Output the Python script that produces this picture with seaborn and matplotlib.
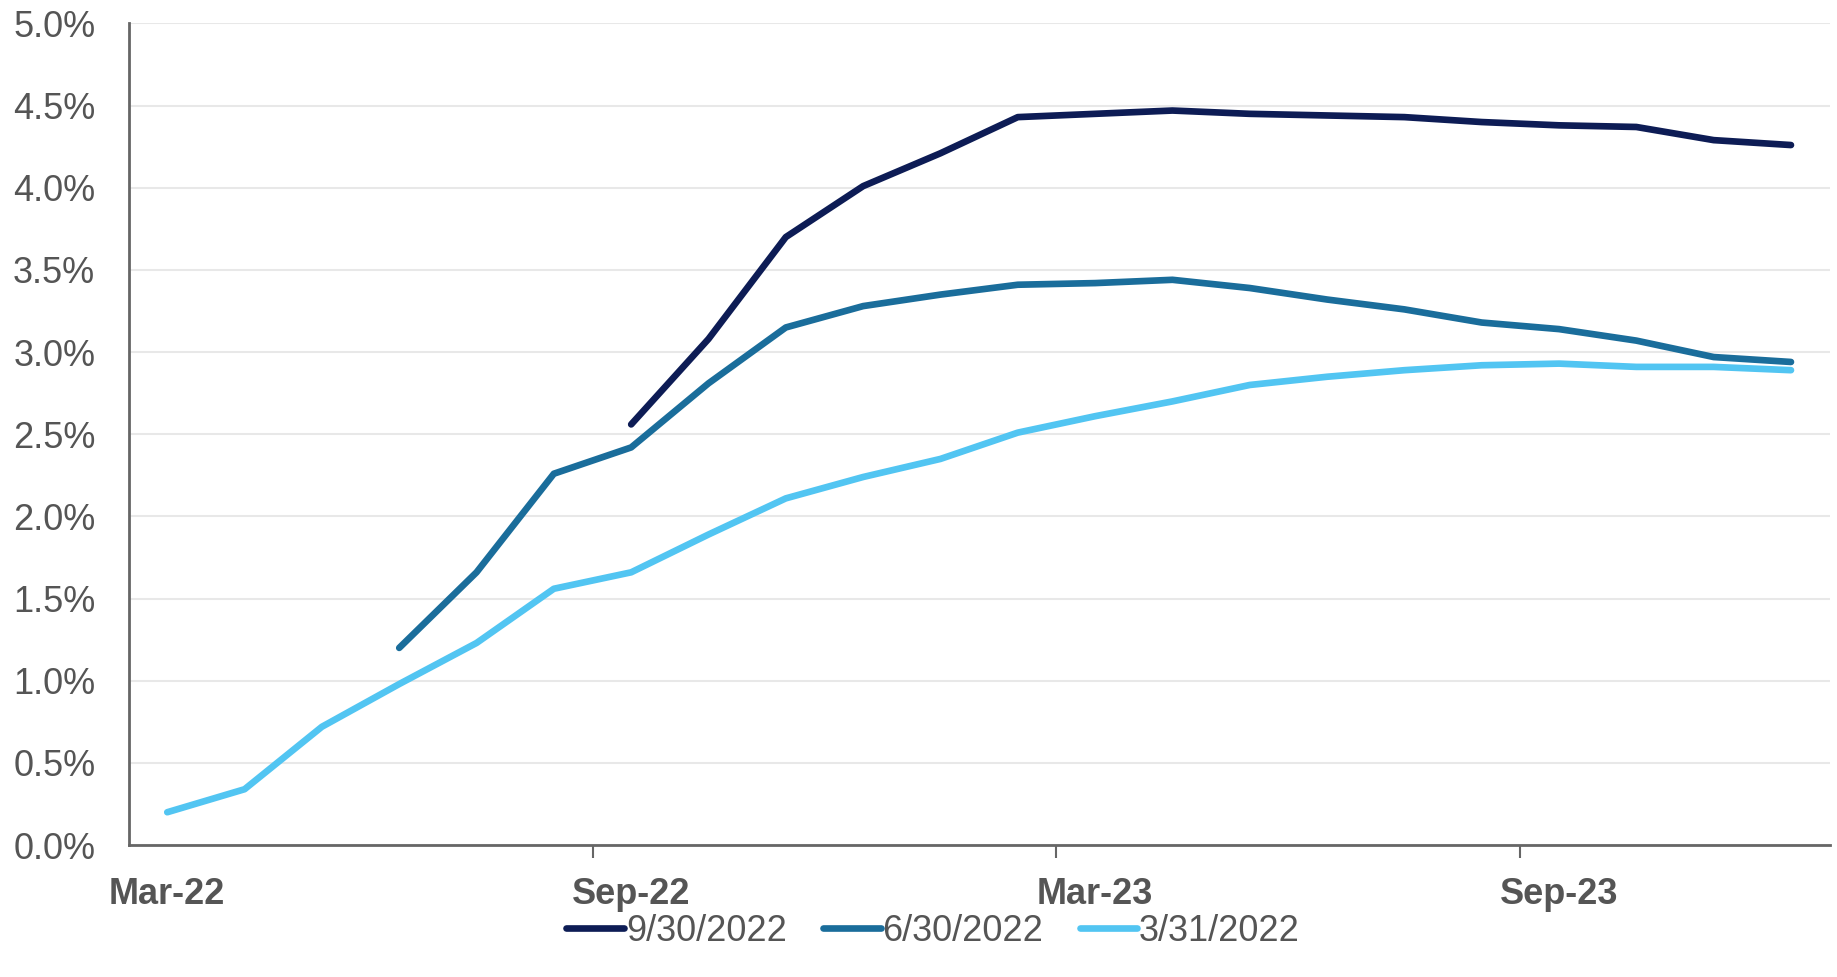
import numpy as np
import pandas as pd
import matplotlib
matplotlib.use("Agg")
import matplotlib.pyplot as plt
import seaborn as sns

months = ["Mar-22", "Apr-22", "May-22", "Jun-22", "Jul-22", "Aug-22",
          "Sep-22", "Oct-22", "Nov-22", "Dec-22", "Jan-23", "Feb-23",
          "Mar-23", "Apr-23", "May-23", "Jun-23", "Jul-23", "Aug-23",
          "Sep-23", "Oct-23", "Nov-23", "Dec-23"]

# forecast curves (%), each starts at its own vintage month
s_0930 = [2.56, 3.08, 3.70, 4.01, 4.21, 4.43, 4.45, 4.47, 4.45, 4.44,
          4.43, 4.40, 4.38, 4.37, 4.29, 4.26]
s_0630 = [1.20, 1.66, 2.26, 2.42, 2.81, 3.15, 3.28, 3.35, 3.41, 3.42,
          3.44, 3.39, 3.32, 3.26, 3.18, 3.14, 3.07, 2.97, 2.94]
s_0331 = [0.20, 0.34, 0.72, 0.98, 1.23, 1.56, 1.66, 1.89, 2.11, 2.24,
          2.35, 2.51, 2.61, 2.70, 2.80, 2.85, 2.89, 2.92, 2.93, 2.91,
          2.91, 2.89]
series_names = ["9/30/2022", "6/30/2022", "3/31/2022"]
colors = ["#0d1c55", "#1a6d9b", "#52c5f2"]

rows = []
for name, vals in zip(series_names, [s_0930, s_0630, s_0331]):
    start = len(months) - len(vals)
    for i, v in enumerate(vals):
        rows.append({"pos": start + i, "rate": v, "series": name})
df = pd.DataFrame(rows)

sns.set_style("white")
plt.rcParams["font.family"] = ["Liberation Sans", "DejaVu Sans"]

fig = plt.figure(figsize=(18.37, 9.77), dpi=100)
ax = fig.add_axes([0.070, 0.135, 0.926, 0.841])

sns.lineplot(data=df, x="pos", y="rate", hue="series", hue_order=series_names,
             palette=colors, linewidth=4.8, ax=ax, legend=False)

ax.set_xlim(-0.5, len(months) - 0.5)
ax.set_ylim(0, 5.0)
ax.set_yticks(np.arange(0, 5.01, 0.5))
ax.set_yticklabels([f"{v:.1f}%" for v in np.arange(0, 5.01, 0.5)],
                   color="#555555", fontsize=26)
ax.yaxis.grid(True, color="#e8e8e8", linewidth=1.5)
ax.tick_params(axis="y", length=0, pad=24)

lab_pos = [0, 6, 12, 18]
ax.set_xticks(lab_pos)
ax.set_xticklabels([months[i] for i in lab_pos], fontsize=26,
                   fontweight="bold", color="#555555")
ax.tick_params(axis="x", which="major", length=0, pad=23)
ax.set_xticks([5.5, 11.5, 17.5], minor=True)
ax.tick_params(axis="x", which="minor", bottom=True, length=9, width=1.5,
               color="#666666")

ax.set_xlabel("")
ax.set_ylabel("")
for s in ["top", "right"]:
    ax.spines[s].set_visible(False)
for s in ["left", "bottom"]:
    ax.spines[s].set_color("#666666")
    ax.spines[s].set_linewidth(2)

handles = [plt.Line2D([], [], color=c, linewidth=4.8) for c in colors]
fig.legend(handles, series_names, loc="center", bbox_to_anchor=(0.508, 0.047),
           ncol=3, frameon=False, fontsize=26, handlelength=1.6,
           handletextpad=0.05, columnspacing=1.0, labelcolor="#555555")

fig.savefig("out.png", dpi=100)
